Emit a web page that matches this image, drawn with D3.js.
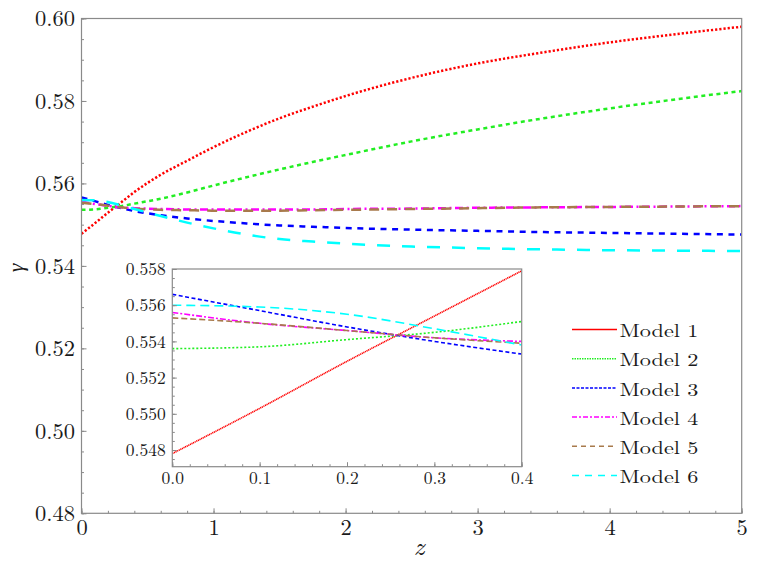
<!DOCTYPE html>
<html><head><meta charset="utf-8">
<script src="https://cdn.jsdelivr.net/npm/d3@7/dist/d3.min.js"></script>
<style>
html,body{margin:0;padding:0;background:#fff;}
</style></head>
<body><svg id="c" width="759" height="565"></svg>
<script>
// ---- data ----
const zValues = [0,0.1,0.2,0.3,0.4,0.6,0.8,1.0,1.25,1.5,1.75,2.0,2.5,3.0,3.5,4.0,4.5,5.0];
const model1 = [0.5478,0.5503,0.5529,0.5554,0.5579,0.5621,0.5655,0.5688,0.5725,0.5758,0.5786,0.5812,0.5856,0.5891,0.5918,0.5942,0.5962,0.5980];
const model2 = [0.5536,0.5537,0.5541,0.5545,0.5551,0.5563,0.5578,0.5595,0.5615,0.5634,0.5652,0.5669,0.5702,0.5731,0.5758,0.5782,0.5804,0.5824];
const model3 = [0.5566,0.5557,0.5548,0.5540,0.5533,0.5523,0.5515,0.5509,0.5503,0.5498,0.5495,0.5492,0.5488,0.5485,0.5482,0.5480,0.5478,0.5476];
const model4 = [0.5556,0.5550,0.5546,0.5542,0.5540,0.5538,0.5537,0.5537,0.5537,0.5537,0.5537,0.5538,0.5539,0.5541,0.5542,0.5543,0.5544,0.5545];
const model5 = [0.5553,0.5550,0.5546,0.5542,0.5539,0.5536,0.5535,0.5534,0.5534,0.5534,0.5535,0.5536,0.5538,0.5540,0.5542,0.5543,0.5544,0.5545];
const model6 = [0.5560,0.5559,0.5555,0.5547,0.5538,0.5521,0.5505,0.5491,0.5476,0.5465,0.5459,0.5454,0.5447,0.5443,0.5440,0.5438,0.5437,0.5436];
const seriesNames = ["Model 1","Model 2","Model 3","Model 4","Model 5","Model 6"];
const mainXTicks = [0,1,2,3,4,5];
const mainYTicks = [0.48,0.50,0.52,0.54,0.56,0.58,0.60];
const insetXTicks = [0.0,0.1,0.2,0.3,0.4];
const insetYTicks = [0.548,0.550,0.552,0.554,0.556,0.558];

// ---- styles ----
const FONT = "Latin Modern Roman";
const TXT = "#1a1a1a";
const colors = ["#ff0000","#22ee22","#0000ff","#ff00ff","#a87a4c","#00ffff"];
const mainDash = ["2.2,2","4,3.6","6,5.6","8,3.5,2,3.5","10,8","13,12"];
const insetDash = ["1.2,0.6","2,2","4,2.5","6,2,2,2","6,3","9,5"];
const legendDash = ["none","1.5,1","3,1.5","5,2,2,2","5,4","7,6"];
const seriesValues = [model1,model2,model3,model4,model5,model6];
const series = seriesNames.map((n,i)=>({name:n,color:colors[i],
  pts:zValues.map((z,j)=>({z, g:seriesValues[i][j]}))}));

const svg = d3.select("#c");
const M = {l:81.5, r:741.7, t:18.5, b:513.3};
const x = d3.scaleLinear().domain([0,5]).range([M.l,M.r]);
const y = d3.scaleLinear().domain([0.48,0.60]).range([M.b,M.t]);

svg.append("defs").append("clipPath").attr("id","mclip")
  .append("rect").attr("x",M.l).attr("y",M.t).attr("width",M.r-M.l).attr("height",M.b-M.t);

const frameColor = "#8a8a8a";

// main lines
const mainG = svg.append("g").attr("clip-path","url(#mclip)");
series.forEach((s,i)=>{
  const line = d3.line().x(d=>x(d.z)).y(d=>y(d.g)).curve(d3.curveMonotoneX);
  mainG.append("path").datum(s.pts).attr("d",line)
    .attr("fill","none").attr("stroke",s.color).attr("stroke-width",2.5)
    .attr("stroke-dasharray",mainDash[i]);
});

// main axes (ticks inward)
function styleAxis(g){ g.attr("font-family",FONT); g.select(".domain").remove(); g.selectAll("line").attr("stroke",frameColor); }
function styleText(sel,size){ sel.attr("font-size",size).attr("font-family",FONT).attr("fill",TXT); }
svg.append("g").attr("transform",`translate(0,${M.b})`)
  .call(d3.axisBottom(x).tickValues(d3.range(0,5.0001,0.2)).tickSize(-2.5).tickFormat(""))
  .call(styleAxis);
svg.append("g").attr("transform",`translate(0,${M.b})`)
  .call(d3.axisBottom(x).tickValues(mainXTicks).tickSize(-5).tickPadding(6).tickFormat(d3.format("d")))
  .call(styleAxis).selectAll("text").call(styleText,22.5);
svg.append("g").attr("transform",`translate(${M.l},0)`)
  .call(d3.axisLeft(y).tickValues(d3.range(0.48,0.60001,0.005)).tickSize(-2.5).tickFormat(""))
  .call(styleAxis);
svg.append("g").attr("transform",`translate(${M.l},0)`)
  .call(d3.axisLeft(y).tickValues(mainYTicks).tickSize(-5).tickPadding(6.5).tickFormat(d3.format(".2f")))
  .call(styleAxis).selectAll("text").call(styleText,22.5);

svg.append("rect").attr("x",M.l).attr("y",M.t).attr("width",M.r-M.l).attr("height",M.b-M.t)
  .attr("fill","none").attr("stroke",frameColor).attr("stroke-width",1.2);

// axis labels
svg.append("text").attr("transform","translate(23,268) rotate(-90)").attr("text-anchor","middle")
  .attr("font-size",22).attr("font-style","italic").attr("font-family",FONT).attr("fill",TXT).text("γ");
svg.append("text").attr("x",419).attr("y",555).attr("text-anchor","middle")
  .attr("font-size",26).attr("font-style","italic").attr("font-family",FONT).attr("fill",TXT).text("z");

// ---- inset ----
const I = {l:172.3, r:521.7, t:269, b:466.7};
const xi = d3.scaleLinear().domain([0,0.4]).range([I.l,I.r]);
const yi = d3.scaleLinear().domain([0.558-(I.b-I.t)/18.1*0.001, 0.558]).range([I.b,I.t]);
svg.append("rect").attr("x",I.l).attr("y",I.t).attr("width",I.r-I.l).attr("height",I.b-I.t)
  .attr("fill","#fff");
svg.select("defs").append("clipPath").attr("id","iclip")
  .append("rect").attr("x",I.l).attr("y",I.t).attr("width",I.r-I.l).attr("height",I.b-I.t);
const insG = svg.append("g").attr("clip-path","url(#iclip)");
series.forEach((s,i)=>{
  const line = d3.line().x(d=>xi(d.z)).y(d=>yi(d.g)).curve(d3.curveMonotoneX);
  insG.append("path").datum(s.pts.filter(d=>d.z<=0.4001)).attr("d",line)
    .attr("fill","none").attr("stroke",s.color).attr("stroke-width",1.6)
    .attr("stroke-dasharray",insetDash[i]);
});
svg.append("g").attr("transform",`translate(0,${I.b})`)
  .call(d3.axisBottom(xi).tickValues(d3.range(0,0.40001,0.02)).tickSize(-2.5).tickFormat(""))
  .call(styleAxis);
svg.append("g").attr("transform",`translate(0,${I.b})`)
  .call(d3.axisBottom(xi).tickValues(insetXTicks).tickSize(-4.5).tickPadding(4.6).tickFormat(d3.format(".1f")))
  .call(styleAxis).selectAll("text").call(styleText,17.5);
svg.append("g").attr("transform",`translate(${I.l},0)`)
  .call(d3.axisLeft(yi).tickValues(d3.range(0.5475,0.55801,0.0005)).tickSize(-2.5).tickFormat(""))
  .call(styleAxis);
svg.append("g").attr("transform",`translate(${I.l},0)`)
  .call(d3.axisLeft(yi).tickValues(insetYTicks).tickSize(-4.5).tickPadding(6.6).tickFormat(d3.format(".3f")))
  .call(styleAxis).selectAll("text").call(styleText,17.5);
svg.append("rect").attr("x",I.l).attr("y",I.t).attr("width",I.r-I.l).attr("height",I.b-I.t)
  .attr("fill","none").attr("stroke",frameColor).attr("stroke-width",1.2);

// ---- legend ----
const leg = svg.append("g");
series.forEach((s,i)=>{
  const cy = 329.5 + i*29.2;
  leg.append("line").attr("x1",572).attr("x2",617).attr("y1",cy).attr("y2",cy)
    .attr("stroke",s.color).attr("stroke-width",1.5).attr("stroke-dasharray",legendDash[i]);
  leg.append("text").attr("transform",`translate(619.5,${cy+7.6}) scale(1.22,1)`)
    .attr("font-size",18.2).attr("font-family",FONT).attr("fill",TXT).text(s.name);
});
</script></body></html>
